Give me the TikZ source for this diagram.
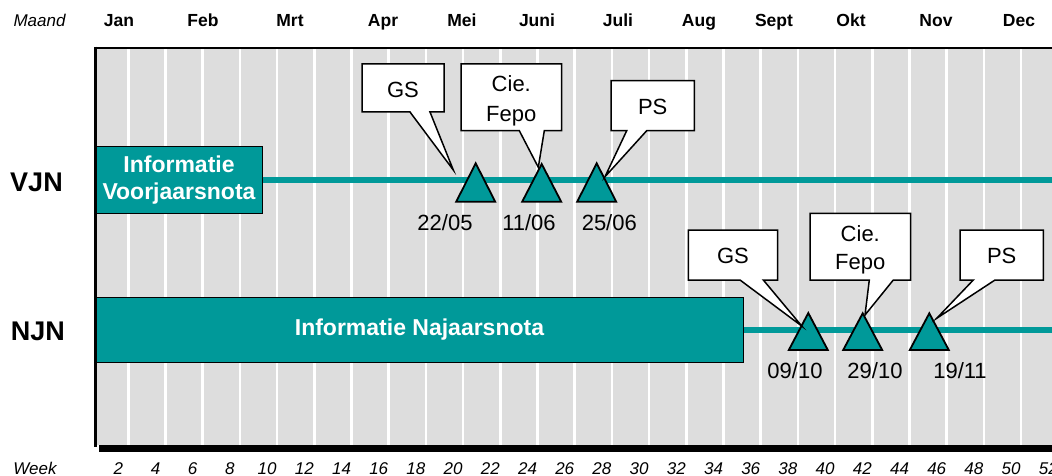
\documentclass[tikz,border=0pt]{standalone}
\usepackage{fontspec}
\setmainfont{Liberation Sans}
\definecolor{chartgray}{HTML}{DDDDDD}
\definecolor{tealc}{HTML}{009999}
\tikzset{
  month/.style={anchor=base, font=\fontsize{17.5}{20}\bfseries\selectfont, inner sep=0pt},
  weeklbl/.style={anchor=base, font=\fontsize{17}{20}\itshape\selectfont, inner sep=0pt},
  rowlbl/.style={font=\fontsize{27}{30}\bfseries\selectfont, inner sep=0pt},
  infobox/.style={draw=black, line width=1pt, fill=tealc, text=white, font=\fontsize{23}{26.7}\bfseries\selectfont, align=center, inner sep=0pt},
  track/.style={draw=tealc, line width=6pt},
  milestone/.style={fill=tealc, draw=black, line width=1.8pt, line join=miter},
  callout/.style={fill=white, draw=black, line width=1.5pt, line join=miter},
  ctext/.style={anchor=base, font=\fontsize{22}{26}\selectfont, inner sep=0pt},
  ctwo/.style={align=center, inner sep=0pt},
  datelbl/.style={anchor=base, font=\fontsize{22}{26}\selectfont, inner sep=0pt},
}
\begin{document}
\begin{tikzpicture}[x=1pt,y=-1pt]
\useasboundingbox (0,0) rectangle (1052,476);
\clip (0,0) rectangle (1052,476);
% chart background
\fill[chartgray] (95,47) rectangle (1060,445);
\foreach \k in {1,...,26}
  \draw[white, line width=2.5pt] ({91.1+37.2*\k},48) -- ({91.1+37.2*\k},445);
\draw[line width=2.3pt] (1060,47.8) -- (94,47.8);
\draw[line width=3.2pt] (95.8,46.7) -- (95.8,446.7);
\fill[black] (99,444.5) rectangle (1060,452);
% header and axis labels
\node[weeklbl] (maand) at (39.5,26.5) {Maand};
\foreach \m/\x in {Jan/119,Feb/203,Mrt/290,Apr/383,Mei/462,Juni/537,Juli/618,Aug/699,Sept/774,Okt/851,Nov/936,Dec/1019}
  \node[month] (m-\m) at (\x,26.5) {\m};
\node[weeklbl] (week) at (35,474.5) {Week};
\foreach \k in {1,...,26} {
  \pgfmathtruncatemacro\wk{2*\k}
  \node[weeklbl] (w\wk) at ({81.1+37.2*\k},474.5) {\wk};
}
\node[rowlbl] (vjn) at (36.5,182) {VJN};
\node[rowlbl] (njn) at (38,331) {NJN};
% bars and tracks
\node[infobox, minimum width=166pt, minimum height=66pt] (vjnbox) at (179,180) {Informatie\\Voorjaarsnota};
\coordinate (vjnend) at (1060,180);
\draw[track] (vjnbox.east) -- (vjnend);
\node[infobox, minimum width=647pt, minimum height=65pt] (njnbox) at (419.5,329.5) {Informatie Najaarsnota};
\coordinate (njnend) at (1060,329.5);
\draw[track] (njnbox.east) -- (njnend);
% milestones
\foreach \n/\x/\ya/\yb in {a/475.7/163.3/201.7, b/541.7/164/201.7, c/596.7/163.3/201.7, d/808.3/313/350, e/862.7/313.3/350, f/929.3/313.3/350} {
  \draw[milestone] ({\x-19.5},\yb) -- (\x,\ya) -- ({\x+19.5},\yb) -- cycle;
  \coordinate (t-\n) at (\x,\ya);
}
\node[datelbl] (da) at (445,230) {22/05};
\node[datelbl] (db) at (529,230) {11/06};
\node[datelbl] (dc) at (609.3,230) {25/06};
\node[datelbl] (dd) at (795,378.3) {09/10};
\node[datelbl] (de) at (875,378.3) {29/10};
\node[datelbl] (df) at (960,378.3) {19/11};
% callouts row 1
\coordinate (tip1) at (453.3,170);
\draw[callout] (362,64) -- (444,64) -- (444,112) -- (430,112) -- (tip1) -- (410,112) -- (362,112) -- cycle;
\node[ctext] (gs1) at (403,98) {GS};
\coordinate (tip2) at (538.3,167.3);
\draw[callout] (461,64) -- (561.7,64) -- (561.7,130.7) -- (544.3,130.7) -- (tip2) -- (519.3,130.7) -- (461,130.7) -- cycle;
\node[ctwo, font=\fontsize{22}{30}\selectfont] (cf1) at (511.3,100.9) {Cie.\\Fepo};
\coordinate (tip3) at (605,176.7);
\draw[callout] (611,80.7) -- (694.3,80.7) -- (694.3,130.7) -- (646.7,130.7) -- (tip3) -- (626.7,130.7) -- (611,130.7) -- cycle;
\node[ctext] (ps1) at (652.7,115) {PS};
% callouts row 2
\coordinate (tip4) at (801.7,326);
\draw[callout] (688.3,230) -- (777.7,230) -- (777.7,280) -- (763.3,280) -- (tip4) -- (740,280) -- (688.3,280) -- cycle;
\node[ctext] (gs2) at (733,263.3) {GS};
\coordinate (tip5) at (865,315);
\draw[callout] (810,213.3) -- (910.7,213.3) -- (910.7,280) -- (893.3,280) -- (tip5) -- (869.3,280) -- (810,280) -- cycle;
\node[ctwo, font=\fontsize{22}{27.6}\selectfont] (cf2) at (860.3,249.7) {Cie.\\Fepo};
\coordinate (tip6) at (936.7,318.3);
\draw[callout] (960,230) -- (1043.3,230) -- (1043.3,280) -- (995,280) -- (tip6) -- (973.3,280) -- (960,280) -- cycle;
\node[ctext] (ps2) at (1001.7,263.3) {PS};
\end{tikzpicture}
\end{document}
